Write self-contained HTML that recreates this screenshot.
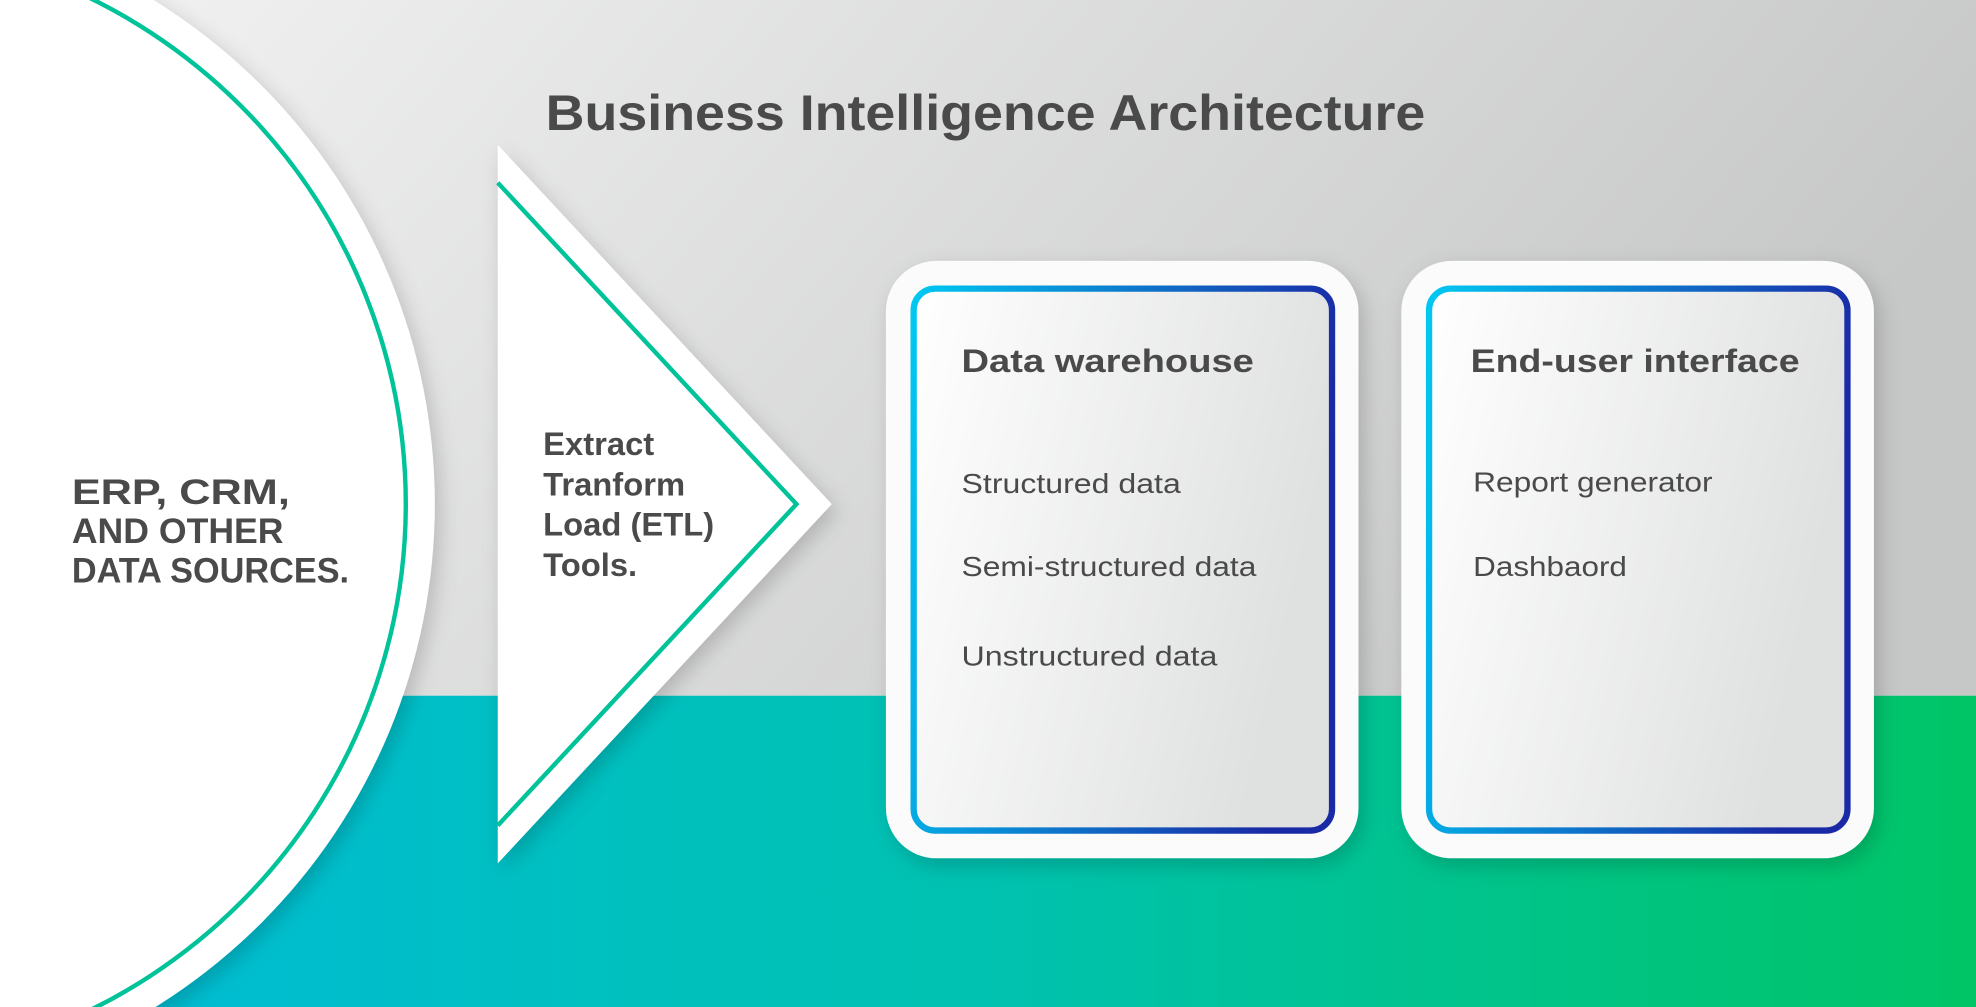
<!DOCTYPE html>
<html><head><meta charset="utf-8"><style>
html,body{margin:0;padding:0;width:1976px;height:1007px;overflow:hidden}
svg{display:block;position:absolute;left:0;top:0}
text{font-family:"Liberation Sans",Arial,sans-serif;fill:#4a4a4a}
</style></head><body>
<svg width="1976" height="1007" viewBox="0 0 1568 799" preserveAspectRatio="none" xmlns="http://www.w3.org/2000/svg">
<defs>
<linearGradient id="top" x1="0" y1="0" x2="1" y2="0.3"><stop offset="0" stop-color="#f3f3f3"/><stop offset="1" stop-color="#c6c7c7"/></linearGradient>
<linearGradient id="bot" x1="0" y1="0" x2="1" y2="0"><stop offset="0" stop-color="#00bcd8"/><stop offset="0.5" stop-color="#00c2b0"/><stop offset="1" stop-color="#00c566"/></linearGradient>
<linearGradient id="brd" x1="0" y1="0" x2="1" y2="0.2"><stop offset="0" stop-color="#00c8f2"/><stop offset="1" stop-color="#1a2aa6"/></linearGradient>
<linearGradient id="inner" x1="0" y1="0" x2="1" y2="0.3"><stop offset="0" stop-color="#ffffff"/><stop offset="1" stop-color="#dfe0e0"/></linearGradient>
<filter id="sh" x="-20%" y="-20%" width="140%" height="140%"><feDropShadow dx="4" dy="6" stdDeviation="8" flood-color="#000" flood-opacity="0.18"/></filter>
</defs>
<rect x="0" y="0" width="1568" height="552" fill="url(#top)"/>
<rect x="0" y="552" width="1568" height="247" fill="url(#bot)"/>
<circle cx="-125" cy="400" r="470" fill="#fff" filter="url(#sh)"/>
<circle cx="-125" cy="400" r="447" fill="none" stroke="#00c39a" stroke-width="3.5"/>
<polygon points="395,115 660,400 395,685" fill="#fff" filter="url(#sh)"/>
<polyline points="395,145 632,400 395,655" fill="none" stroke="#00c39a" stroke-width="3.5"/>
<text x="433" y="103" font-size="40" font-weight="bold" textLength="698" lengthAdjust="spacingAndGlyphs">Business Intelligence Architecture</text>
<g font-size="28" font-weight="bold">
<text x="57" y="400" textLength="173" lengthAdjust="spacingAndGlyphs">ERP, CRM,</text>
<text x="57" y="431" textLength="168" lengthAdjust="spacingAndGlyphs">AND OTHER</text>
<text x="57" y="462" textLength="220" lengthAdjust="spacingAndGlyphs">DATA SOURCES.</text>
</g>
<g font-size="26" font-weight="bold">
<text x="431" y="361">Extract</text>
<text x="431" y="393">Tranform</text>
<text x="431" y="425">Load (ETL)</text>
<text x="431" y="457">Tools.</text>
</g>
<g>
<rect x="703" y="207" width="375" height="474" rx="40" fill="#fbfbfb" filter="url(#sh)"/>
<rect x="725" y="229" width="332" height="430" rx="17" fill="url(#inner)" stroke="url(#brd)" stroke-width="5"/>
<rect x="1112" y="207" width="375" height="474" rx="40" fill="#fbfbfb" filter="url(#sh)"/>
<rect x="1134" y="229" width="332" height="430" rx="17" fill="url(#inner)" stroke="url(#brd)" stroke-width="5"/>
</g>
<g font-size="26" font-weight="bold">
<text x="763" y="295" textLength="232" lengthAdjust="spacingAndGlyphs">Data warehouse</text>
<text x="1167" y="295" textLength="261" lengthAdjust="spacingAndGlyphs">End-user interface</text>
</g>
<g font-size="22">
<text x="763" y="391" textLength="174" lengthAdjust="spacingAndGlyphs">Structured data</text>
<text x="763" y="457" textLength="234" lengthAdjust="spacingAndGlyphs">Semi-structured data</text>
<text x="763" y="528" textLength="203" lengthAdjust="spacingAndGlyphs">Unstructured data</text>
<text x="1169" y="390" textLength="190" lengthAdjust="spacingAndGlyphs">Report generator</text>
<text x="1169" y="457" textLength="122" lengthAdjust="spacingAndGlyphs">Dashbaord</text>
</g>
</svg>
</body></html>
